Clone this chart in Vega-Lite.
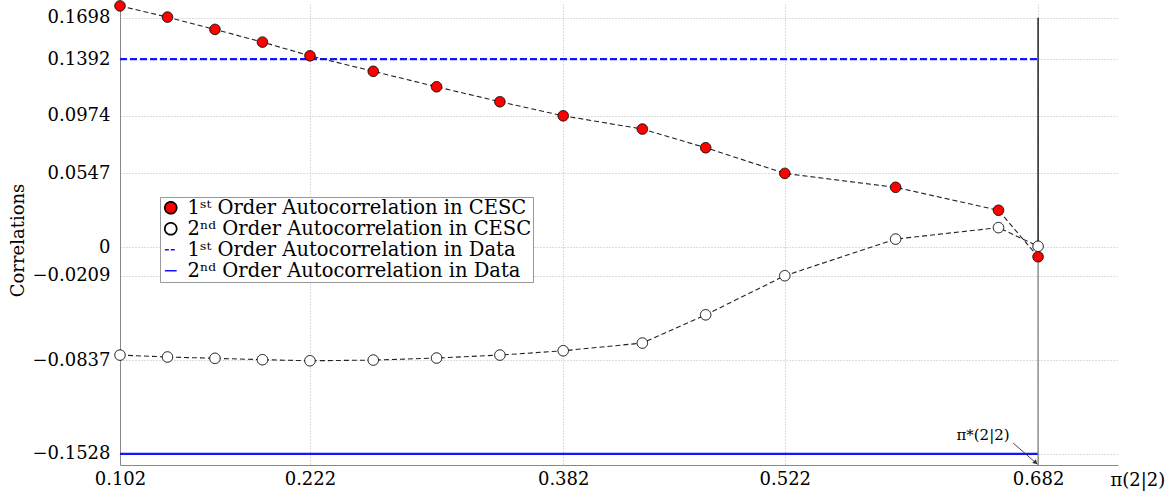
{
  "$schema": "https://vega.github.io/schema/vega-lite/v6.json",
  "width": 998,
  "height": 461,
  "autosize": {"type": "none"},
  "padding": {"left": 120, "top": 4, "right": 53, "bottom": 30},
  "background": "white",
  "config": {
    "view": {"stroke": null},
    "font": "DejaVu Serif",
    "legend": {
      "orient": "none", "legendX": 40, "legendY": 193,
      "labelFont": "DejaVu Serif", "labelFontSize": 19.5, "labelColor": "#000000",
      "strokeColor": "#999999", "fillColor": "#ffffff", "padding": 1, "rowPadding": 0,
      "symbolSize": 140, "symbolStrokeWidth": 1.7, "labelOffset": 7, "labelLimit": 500, "symbolOpacity": 1
    }
  },
  "encoding": {
    "x": {
      "field": "x", "type": "quantitative",
      "scale": {"domain": [0.102, 0.7325], "nice": false, "zero": false},
      "axis": {
        "values": [0.102, 0.222, 0.382, 0.522, 0.682], "format": ".3f",
        "title": "π(2|2)", "grid": true, "gridDash": [1, 2], "gridColor": "#bbbbbb",
        "domainColor": "#888888", "ticks": false, "labelFont": "DejaVu Serif", "labelFontSize": 18,
        "labelColor": "#000000", "labelPadding": 5, "labelFlush": false,
        "titleFont": "DejaVu Serif", "titleFontSize": 18, "titleFontWeight": "normal", "titleColor": "#000000",
        "titleX": 990, "titleY": 15, "titleAlign": "left", "titleBaseline": "middle", "titleAnchor": null
      }
    },
    "y": {
      "field": "y", "type": "quantitative",
      "scale": {"domain": [-0.161, 0.18], "nice": false, "zero": false},
      "axis": {
        "values": [0.1698, 0.1392, 0.0974, 0.0547, 0, -0.0209, -0.0837, -0.1528],
        "labelExpr": "datum.value == 0 ? '0' : replace(format(datum.value, '.4f'), '-', '−')",
        "title": "Correlations", "grid": true, "gridDash": [1, 2], "gridColor": "#bbbbbb",
        "domainColor": "#888888", "ticks": false, "labelFont": "DejaVu Serif", "labelFontSize": 18,
        "labelColor": "#000000", "labelPadding": 10, "labelFlush": false,
        "titleFont": "DejaVu Serif", "titleFontSize": 18, "titleFontWeight": "normal", "titleColor": "#000000",
        "titleX": -102, "titleY": 236, "titleAngle": -90, "titleAlign": "center", "titleBaseline": "middle"
      }
    }
  },
  "layer": [
    {
      "data": {"values": [{"x": 0.102, "x2": 0.682, "y": 0.1392}]},
      "mark": {"type": "rule", "color": "#1414ff", "strokeWidth": 2.2, "strokeDash": [7, 3]},
      "encoding": {"x2": {"field": "x2"}}
    },
    {
      "data": {"values": [{"x": 0.102, "x2": 0.682, "y": -0.1528}]},
      "mark": {"type": "rule", "color": "#1414ff", "strokeWidth": 2.2},
      "encoding": {"x2": {"field": "x2"}}
    },
    {
      "data": {"values": [{"x": 0.682, "y": 0.1698, "y2": 0.004}]},
      "mark": {"type": "rule", "color": "#000000", "strokeWidth": 1.3},
      "encoding": {"y2": {"field": "y2"}}
    },
    {
      "data": {"values": [{"x": 0.682, "y": -0.0115, "y2": -0.161}]},
      "mark": {"type": "rule", "color": "#777777", "strokeWidth": 1.2},
      "encoding": {"y2": {"field": "y2"}}
    },
    {
      "data": {"name": "pts"},
      "mark": {"type": "line", "color": "#222222", "strokeWidth": 1.1, "strokeDash": [5, 3]},
      "encoding": {"detail": {"field": "series"}}
    },
    {
      "data": {"name": "pts"},
      "mark": {"type": "point", "filled": true, "strokeWidth": 1, "size": 110, "opacity": 1},
      "encoding": {
        "fill": {
          "field": "series", "type": "nominal",
          "scale": {
            "domain": ["1ˢᵗ Order Autocorrelation in CESC", "2ⁿᵈ Order Autocorrelation in CESC", "1ˢᵗ Order Autocorrelation in Data", "2ⁿᵈ Order Autocorrelation in Data"],
            "range": ["#ff0000", "#ffffff", "#1414ff", "#1414ff"]
          },
          "legend": {"title": null}
        },
        "stroke": {
          "field": "series", "type": "nominal",
          "scale": {
            "domain": ["1ˢᵗ Order Autocorrelation in CESC", "2ⁿᵈ Order Autocorrelation in CESC", "1ˢᵗ Order Autocorrelation in Data", "2ⁿᵈ Order Autocorrelation in Data"],
            "range": ["#000000", "#000000", "#1414ff", "#1414ff"]
          },
          "legend": {"title": null}
        },
        "shape": {
          "field": "series", "type": "nominal",
          "scale": {
            "domain": ["1ˢᵗ Order Autocorrelation in CESC", "2ⁿᵈ Order Autocorrelation in CESC", "1ˢᵗ Order Autocorrelation in Data", "2ⁿᵈ Order Autocorrelation in Data"],
            "range": ["circle", "circle", "stroke", "stroke"]
          },
          "legend": {"title": null}
        },
        "strokeDash": {
          "field": "series", "type": "nominal",
          "scale": {
            "domain": ["1ˢᵗ Order Autocorrelation in CESC", "2ⁿᵈ Order Autocorrelation in CESC", "1ˢᵗ Order Autocorrelation in Data", "2ⁿᵈ Order Autocorrelation in Data"],
            "range": [[1, 0], [1, 0], [4, 2], [1, 0]]
          },
          "legend": {"title": null}
        }
      }
    },
    {
      "data": {"values": [{"x": 0.6662, "y": -0.1447, "x2": 0.6815, "y2": -0.1603}]},
      "mark": {"type": "rule", "color": "#333333", "strokeWidth": 0.9},
      "encoding": {"x2": {"field": "x2"}, "y2": {"field": "y2"}}
    },
    {
      "data": {"values": [{"x": 0.6805, "y": -0.1593}]},
      "mark": {"type": "point", "shape": "triangle-down", "filled": true, "color": "#333333", "size": 28, "angle": 313, "opacity": 1}
    },
    {
      "data": {"values": [{"x": 0.6472, "y": -0.1388, "t": "π*(2|2)"}]},
      "mark": {"type": "text", "font": "DejaVu Serif", "fontSize": 15, "color": "#000000", "align": "center", "baseline": "middle"},
      "encoding": {"text": {"field": "t"}}
    }
  ],
  "datasets": {
    "pts": [
      {"series": "1ˢᵗ Order Autocorrelation in CESC", "x": 0.102, "y": 0.1786},
      {"series": "1ˢᵗ Order Autocorrelation in CESC", "x": 0.132, "y": 0.1703},
      {"series": "1ˢᵗ Order Autocorrelation in CESC", "x": 0.162, "y": 0.1612},
      {"series": "1ˢᵗ Order Autocorrelation in CESC", "x": 0.192, "y": 0.1518},
      {"series": "1ˢᵗ Order Autocorrelation in CESC", "x": 0.222, "y": 0.1417},
      {"series": "1ˢᵗ Order Autocorrelation in CESC", "x": 0.262, "y": 0.1302},
      {"series": "1ˢᵗ Order Autocorrelation in CESC", "x": 0.302, "y": 0.1188},
      {"series": "1ˢᵗ Order Autocorrelation in CESC", "x": 0.342, "y": 0.1077},
      {"series": "1ˢᵗ Order Autocorrelation in CESC", "x": 0.382, "y": 0.0973},
      {"series": "1ˢᵗ Order Autocorrelation in CESC", "x": 0.432, "y": 0.0875},
      {"series": "1ˢᵗ Order Autocorrelation in CESC", "x": 0.472, "y": 0.0737},
      {"series": "1ˢᵗ Order Autocorrelation in CESC", "x": 0.522, "y": 0.0547},
      {"series": "1ˢᵗ Order Autocorrelation in CESC", "x": 0.592, "y": 0.0444},
      {"series": "1ˢᵗ Order Autocorrelation in CESC", "x": 0.657, "y": 0.0274},
      {"series": "1ˢᵗ Order Autocorrelation in CESC", "x": 0.682, "y": -0.0070},
      {"series": "2ⁿᵈ Order Autocorrelation in CESC", "x": 0.102, "y": -0.0797},
      {"series": "2ⁿᵈ Order Autocorrelation in CESC", "x": 0.132, "y": -0.0811},
      {"series": "2ⁿᵈ Order Autocorrelation in CESC", "x": 0.162, "y": -0.0821},
      {"series": "2ⁿᵈ Order Autocorrelation in CESC", "x": 0.192, "y": -0.0831},
      {"series": "2ⁿᵈ Order Autocorrelation in CESC", "x": 0.222, "y": -0.0839},
      {"series": "2ⁿᵈ Order Autocorrelation in CESC", "x": 0.262, "y": -0.0834},
      {"series": "2ⁿᵈ Order Autocorrelation in CESC", "x": 0.302, "y": -0.0819},
      {"series": "2ⁿᵈ Order Autocorrelation in CESC", "x": 0.342, "y": -0.0797},
      {"series": "2ⁿᵈ Order Autocorrelation in CESC", "x": 0.382, "y": -0.0765},
      {"series": "2ⁿᵈ Order Autocorrelation in CESC", "x": 0.432, "y": -0.0708},
      {"series": "2ⁿᵈ Order Autocorrelation in CESC", "x": 0.472, "y": -0.0499},
      {"series": "2ⁿᵈ Order Autocorrelation in CESC", "x": 0.522, "y": -0.0210},
      {"series": "2ⁿᵈ Order Autocorrelation in CESC", "x": 0.592, "y": 0.0061},
      {"series": "2ⁿᵈ Order Autocorrelation in CESC", "x": 0.657, "y": 0.0146},
      {"series": "2ⁿᵈ Order Autocorrelation in CESC", "x": 0.682, "y": 0.0008}
    ]
  }
}
